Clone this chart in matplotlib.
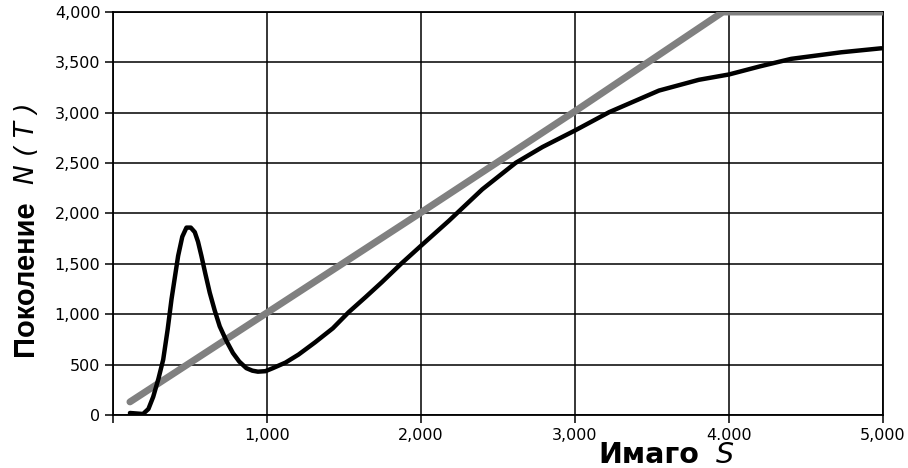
import matplotlib
matplotlib.use("Agg")
import matplotlib.pyplot as plt

# Black curve: N(T) vs S
black_s = [110, 195, 230, 261, 295, 326, 355, 380, 403, 423, 450, 477, 505, 531, 552, 574, 600, 628,
           660, 693, 735, 779, 820, 866, 905, 941, 990, 1038, 1120, 1205, 1311, 1427, 1530, 1640,
           1745, 1870, 2000, 2180, 2398, 2615, 2789, 3000, 3222, 3545, 3804, 4000, 4200, 4404,
           4728, 4990]
black_n = [20, 10, 60, 180, 360, 550, 850, 1150, 1380, 1580, 1770, 1860, 1860, 1815, 1720, 1580, 1400,
           1215, 1040, 880, 740, 615, 530, 465, 440, 430, 435, 465, 520, 600, 720, 860, 1020, 1170,
           1317, 1500, 1680, 1926, 2240, 2503, 2660, 2824, 3006, 3220, 3327, 3380, 3460, 3535,
           3600, 3640]

# Gray curve
gray_s = [110, 1000, 2000, 3000, 3960, 5000]
gray_n = [130, 1015, 2010, 3015, 4000, 4000]

x_ticks = [0, 1000, 2000, 3000, 4000, 5000]
x_labels = ["", "1,000", "2,000", "3,000", "4.000", "5,000"]
y_ticks = [0, 500, 1000, 1500, 2000, 2500, 3000, 3500, 4000]
y_labels = ["0", "500", "1,000", "1,500", "2,000", "2,500", "3,000", "3,500", "4,000"]

W, H = 908, 468
fig = plt.figure(figsize=(W/100, H/100), dpi=100)
ax = fig.add_axes([113/W, 1-415/H, (883-113)/W, (415-12)/H])

ax.plot(gray_s, gray_n, color="#808080", lw=5, solid_capstyle="round", solid_joinstyle="round", zorder=3)
ax.plot(black_s, black_n, color="black", lw=3.2, solid_capstyle="round", solid_joinstyle="round", zorder=4)

ax.set_xlim(0, 5000)
ax.set_ylim(0, 4000)
ax.set_xticks(x_ticks)
ax.set_xticklabels(x_labels)
ax.set_yticks(y_ticks)
ax.set_yticklabels(y_labels)
ax.grid(True, color="black", lw=1.1)
ax.tick_params(direction="out", length=6, width=1.1, labelsize=11.5, colors="black", pad=3)
for sp in ax.spines.values():
    sp.set_linewidth(1.3)
    sp.set_color("black")

# y label pieces (rotated)
fig.text(33/W, 1-356/H, "Поколение", rotation=90, rotation_mode="anchor",
         ha="left", va="baseline", fontsize=21, fontweight="bold", family="Liberation Sans")
fig.text(34/W, 1-184/H, "N ( T )", rotation=90, rotation_mode="anchor",
         ha="left", va="baseline", fontsize=19, fontstyle="italic", family="DejaVu Sans")

# x label pieces
fig.text(598/W, 1-463/H, "Имаго", ha="left", va="baseline", fontsize=20.5,
         fontweight="bold", family="DejaVu Sans")
fig.text(716/W, 1-463/H, "S", ha="left", va="baseline", fontsize=20.5,
         fontstyle="italic", family="DejaVu Sans")

fig.savefig("out.png", dpi=100)
